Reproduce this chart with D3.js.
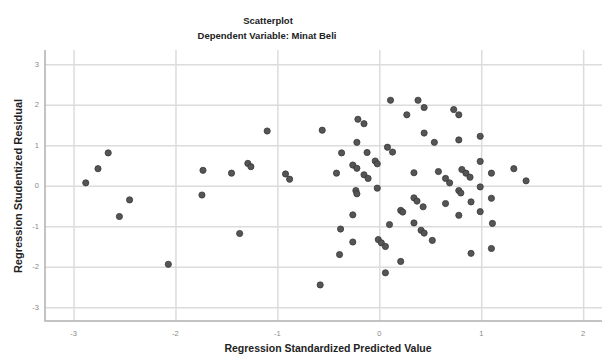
<!DOCTYPE html>
<html>
<head>
<meta charset="utf-8">
<script src="https://cdn.jsdelivr.net/npm/d3@7"></script>
<style>
  html, body { margin: 0; background: #fff; overflow: hidden; }
  svg { display: block; font-family: "Liberation Sans", Arial, sans-serif; }
</style>
</head>
<body>
<div id="chart"></div>
<script>
// Regression standardized predicted value (x) and studentized residual (y)
const predicted = [
  -2.88, -2.76, -2.66, -2.45, -2.55, -2.07, -1.73, -1.74, -1.45, -1.29,
  -1.26, -1.37, -1.10, -0.92, -0.88, -0.56, -0.37, -0.42, -0.38, -0.39,
  -0.58, -0.21, -0.15, -0.22, -0.12, -0.26, -0.22, -0.15, -0.11, -0.04,
  -0.02, -0.02, -0.23, -0.22, -0.26, -0.26, -0.01, 0.02, 0.06, 0.06,
  0.10, 0.11, 0.08, 0.13, 0.38, 0.44, 0.27, 0.44, 0.54, 0.34,
  0.34, 0.37, 0.43, 0.21, 0.23, 0.34, 0.41, 0.44, 0.52, 0.21,
  0.58, 0.65, 0.69, 0.65, 0.73, 0.78, 0.78, 0.99, 0.99, 0.81,
  0.85, 0.89, 0.78, 0.80, 0.99, 1.10, 1.10, 0.90, 0.99, 0.78,
  1.11, 0.90, 1.10, 1.32, 1.44
];
const residual = [
  0.07, 0.42, 0.81, -0.35, -0.76, -1.94, 0.38, -0.23, 0.31, 0.55,
  0.47, -1.18, 1.35, 0.29, 0.16, 1.37, 0.81, 0.31, -1.07, -1.70,
  -2.45, 1.64, 1.53, 1.07, 0.82, 0.51, 0.43, 0.27, 0.18, 0.61,
  0.54, -0.06, -0.12, -0.20, -0.72, -1.39, -1.33, -1.41, -1.50, -2.15,
  -0.96, 2.11, 0.95, 0.83, 2.11, 1.93, 1.75, 1.30, 1.07, 0.32,
  -0.30, -0.38, -0.52, -0.61, -0.65, -0.92, -1.10, -1.17, -1.35, -1.87,
  0.35, 0.18, 0.07, -0.44, 1.88, 1.75, 1.13, 1.22, 0.60, 0.40,
  0.31, 0.21, -0.12, -0.18, -0.03, 0.31, -0.31, -0.40, -0.64, -0.73,
  -0.93, -1.67, -1.55, 0.42, 0.12
];
const xTicks = [-3, -2, -1, 0, 1, 2];
const yTicks = [-3, -2, -1, 0, 1, 2, 3];

const width = 602, height = 356;
const margin = { top: 50, right: 0, bottom: 35, left: 45 };
const innerWidth = width - margin.left - margin.right;
const innerHeight = height - margin.top - margin.bottom;

const svg = d3.select('#chart')
  .append('svg')
  .attr('width', width)
  .attr('height', height);

// Scales in page coordinates
const x = d3.scaleLinear().domain([-3.28, 2.185]).range([margin.left, width - margin.right]);
const y = d3.scaleLinear().domain([-3.34, 3.35]).range([height - margin.bottom, margin.top]);

// Gridlines
svg.append('g')
  .attr('class', 'y-grid')
  .attr('transform', `translate(${margin.left},0)`)
  .call(d3.axisLeft(y).tickValues(yTicks).tickSize(-innerWidth).tickFormat(() => ''))
  .call(s => s.select('.domain').remove())
  .call(s => s.selectAll('text').remove())
  .selectAll('line')
  .attr('stroke', '#dcdcdc')
  .attr('stroke-width', 1.5);

svg.append('g')
  .attr('class', 'x-grid')
  .attr('transform', `translate(0,${height - margin.bottom})`)
  .call(d3.axisBottom(x).tickValues(xTicks).tickSize(-innerHeight).tickFormat(() => ''))
  .call(s => s.select('.domain').remove())
  .call(s => s.selectAll('text').remove())
  .selectAll('line')
  .attr('stroke', '#dcdcdc')
  .attr('stroke-width', 1.5);

// Axis lines
svg.append('path')
  .attr('d', `M${margin.left},${margin.top}V${height - margin.bottom}H${width}`)
  .attr('fill', 'none')
  .attr('stroke', '#b0b0b0')
  .attr('stroke-width', 1.5);

// Tick labels
svg.append('g')
  .attr('class', 'x-ticks')
  .selectAll('text')
  .data(xTicks)
  .enter()
  .append('text')
  .attr('x', d => x(d))
  .attr('y', height - margin.bottom + 14.5)
  .attr('text-anchor', 'middle')
  .attr('font-size', 7.5)
  .attr('fill', '#888')
  .text(d => String(d));

svg.append('g')
  .attr('class', 'y-ticks')
  .selectAll('text')
  .data(yTicks)
  .enter()
  .append('text')
  .attr('x', margin.left - 6)
  .attr('y', d => y(d) + 2.6)
  .attr('text-anchor', 'end')
  .attr('font-size', 7.5)
  .attr('fill', '#888')
  .text(d => String(d));

// Points
svg.append('g')
  .selectAll('.dot')
  .data(predicted.map((d, i) => [d, residual[i]]))
  .enter()
  .append('circle')
  .attr('class', 'dot')
  .attr('cx', d => x(d[0]))
  .attr('cy', d => y(d[1]))
  .attr('r', 3.1)
  .attr('fill', '#555')
  .attr('stroke', '#383838')
  .attr('stroke-width', 0.8);

// Titles
svg.append('text')
  .attr('x', 268)
  .attr('y', 24)
  .attr('text-anchor', 'middle')
  .attr('font-size', 9.5)
  .attr('font-weight', 'bold')
  .attr('fill', '#222')
  .text('Scatterplot');

svg.append('text')
  .attr('x', 267)
  .attr('y', 38.5)
  .attr('text-anchor', 'middle')
  .attr('font-size', 9.5)
  .attr('font-weight', 'bold')
  .attr('fill', '#222')
  .text('Dependent Variable: Minat Beli');

// Axis labels
svg.append('text')
  .attr('x', 328)
  .attr('y', 351.5)
  .attr('text-anchor', 'middle')
  .attr('font-size', 10.5)
  .attr('font-weight', 'bold')
  .attr('fill', '#222')
  .text('Regression Standardized Predicted Value');

svg.append('text')
  .attr('transform', 'translate(22,186) rotate(-90)')
  .attr('text-anchor', 'middle')
  .attr('font-size', 11)
  .attr('font-weight', 'bold')
  .attr('fill', '#222')
  .text('Regression Studentized Residual');
</script>
</body>
</html>
